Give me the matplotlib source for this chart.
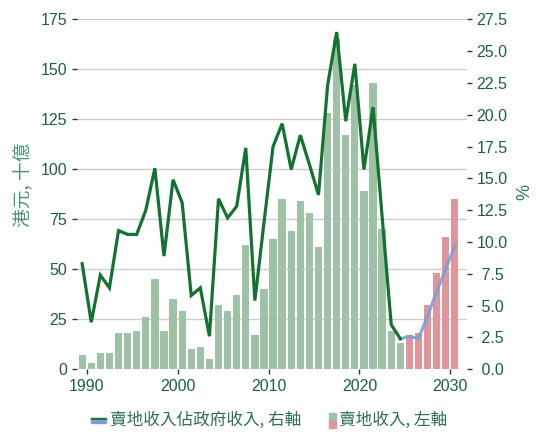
import numpy as np
import matplotlib
matplotlib.use("Agg")
import matplotlib.pyplot as plt
from matplotlib.legend_handler import HandlerBase
from matplotlib.patches import Rectangle

# ---- data ----
years_actual = list(range(1990, 2026))
land_sales = [7, 3, 8, 8, 18, 18, 19, 26, 45, 19, 35, 29, 10, 11, 5, 32, 29, 37,
              62, 17, 40, 65, 85, 69, 84, 78, 61, 128, 165, 117, 142, 89, 143, 70,
              19, 13]
years_fc = list(range(2026, 2032))
land_sales_fc = [17, 18, 32, 48, 66, 85]
share_actual = [8.3, 3.7, 7.4, 6.4, 10.9, 10.6, 10.6, 12.5, 15.8, 8.9, 14.9, 13.1,
                5.8, 6.4, 2.6, 13.4, 11.9, 12.8, 17.4, 5.4, 11.5, 17.5, 19.3, 15.7,
                18.4, 16.1, 13.7, 22.3, 26.5, 19.5, 24.0, 15.7, 20.6, 12.0, 3.5, 2.4]
years_share_fc = list(range(2025, 2032))
share_fc = [2.4, 2.6, 2.4, 4.2, 6.1, 7.9, 9.7]
xticks = [1990, 2000, 2010, 2020, 2030]
left_ticks = [0, 25, 50, 75, 100, 125, 150, 175]
right_ticks = [0.0, 2.5, 5.0, 7.5, 10.0, 12.5, 15.0, 17.5, 20.0, 22.5, 25.0, 27.5]
label_line = "賣地收入佔政府收入, 右軸"
label_bar = "賣地收入, 左軸"
ylabel_left = "港元, 十億"
ylabel_right = "%"

# ---- style ----
GREEN_BAR = "#9fc1a6"
RED_BAR = "#e0959b"
GREEN_LINE = "#12722f"
BLUE_LINE = "#7d9fd6"
TICK_TXT = "#1d5e47"
LEG_TXT = "#2e6e58"
CJK = ["Noto Sans CJK TC", "DejaVu Sans"]

plt.rcParams["font.family"] = ["Liberation Sans", "Noto Sans CJK TC", "DejaVu Sans"]

fig = plt.figure(figsize=(5.44, 4.32), dpi=100)
ax = fig.add_axes([0.1415, 0.1451, 0.717, 0.8102])
ax2 = ax.twinx()

off = 0.5
ax.bar(np.array(years_actual) - off, land_sales, width=0.8, color=GREEN_BAR, zorder=2)
ax.bar(np.array(years_fc) - off, land_sales_fc, width=0.8, color=RED_BAR, zorder=2)
ax2.plot(np.array(years_share_fc) - off, share_fc, color=BLUE_LINE, lw=2.3, alpha=0.9,
         solid_joinstyle="miter", zorder=3)
ax2.plot(np.array(years_actual) - off, share_actual, color=GREEN_LINE, lw=2.3,
         solid_joinstyle="miter", zorder=4)

ax.set_xlim(1988.93, 2031.84)
ax.set_ylim(0, 175)
ax2.set_ylim(0, 27.5)
ax.set_xticks(xticks)
ax.set_yticks(left_ticks)
ax2.set_yticks(right_ticks)
ax2.set_yticklabels([f"{v:4.1f}" for v in right_ticks])
ax.yaxis.grid(True, color="#cccccc", lw=1.0, zorder=0)
ax.set_axisbelow(True)

for a in (ax, ax2):
    for s in a.spines.values():
        s.set_visible(False)
ax.tick_params(axis="both", labelsize=11.5, labelcolor=TICK_TXT, length=3.5,
               width=1, color="#333333")
ax2.tick_params(axis="y", labelsize=11.5, labelcolor=TICK_TXT, length=3.5,
                width=1, color="#333333")

fig.text(0.041, 0.572, ylabel_left, rotation=90, ha="center", va="center",
         fontsize=13.5, color="#4a9470", family=CJK)
fig.text(0.965, 0.555, ylabel_right, rotation=90, ha="center", va="center",
         fontsize=13, color="#2a7a55")


class Dual:
    def __init__(self, top, bottom, kind):
        self.top, self.bottom, self.kind = top, bottom, kind


class DualHandler(HandlerBase):
    def create_artists(self, legend, h, xd, yd, width, height, fontsize, trans):
        if h.kind == "line":
            bh = 2.0
            y0 = -yd + height * 0.5 - bh * 1.6
            r1 = Rectangle((-xd, y0 + bh), width, bh, color=h.top, transform=trans)
            r2 = Rectangle((-xd, y0), width, bh, color=h.bottom, transform=trans)
        else:
            w = 5.2
            bh = 5.0
            y0 = -yd + height * 0.5 - bh * 1.25
            r1 = Rectangle((-xd + width - w, y0 + bh + 0.6), w, bh, color=h.top, transform=trans)
            r2 = Rectangle((-xd + width - w, y0 - 0.6), w, bh, color=h.bottom, transform=trans)
        return [r1, r2]


handles = [Dual(GREEN_LINE, BLUE_LINE, "line"), Dual(GREEN_BAR, RED_BAR, "bar")]
leg = fig.legend(handles, [label_line, label_bar], ncol=2, loc="center",
                 bbox_to_anchor=(0.495, 0.028), frameon=False,
                 handler_map={Dual: DualHandler()}, handlelength=0.9,
                 handletextpad=0.2, columnspacing=1.2,
                 prop={"family": CJK, "size": 12})
for t in leg.get_texts():
    t.set_color(LEG_TXT)

fig.savefig("out.png", dpi=100)
